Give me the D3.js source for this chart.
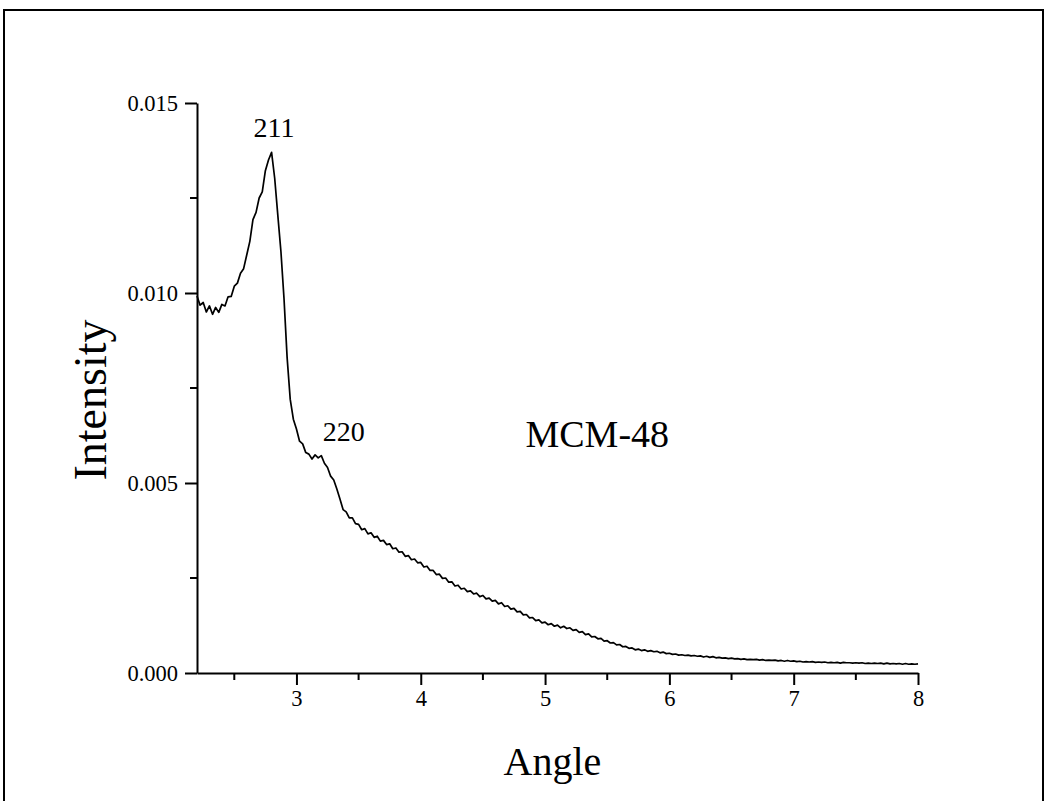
<!DOCTYPE html>
<html>
<head>
<meta charset="utf-8">
<script src="https://cdn.jsdelivr.net/npm/d3@7"></script>
<style>
  html, body { margin: 0; padding: 0; background: #fff; }
  svg { display: block; }
  text { font-family: "Liberation Serif", "Times New Roman", serif; fill: #000; }
</style>
</head>
<body>
<svg id="chart" width="1050" height="801"></svg>
<script>
// Small-angle XRD scan of MCM-48: [angle (2θ, deg), intensity]
const scan = [
  [2.200,0.00992],[2.225,0.00968],[2.250,0.00975],[2.275,0.00950],[2.300,0.00966],[2.325,0.00944],[2.350,0.00962],[2.375,0.00949],
  [2.400,0.00970],[2.425,0.00966],[2.450,0.00990],[2.475,0.00991],[2.500,0.01018],[2.525,0.01026],[2.550,0.01052],[2.575,0.01064],
  [2.600,0.01100],[2.625,0.01136],[2.650,0.01193],[2.675,0.01212],[2.700,0.01250],[2.725,0.01266],[2.750,0.01322],[2.775,0.01350],
  [2.800,0.01370],[2.825,0.01302],[2.850,0.01205],[2.875,0.01110],[2.900,0.00985],[2.925,0.00830],[2.950,0.00720],[2.975,0.00668],
  [3.000,0.00642],[3.025,0.00610],[3.050,0.00603],[3.075,0.00580],[3.100,0.00576],[3.125,0.00563],[3.150,0.00574],[3.175,0.00566],
  [3.200,0.00572],[3.225,0.00552],[3.250,0.00541],[3.275,0.00518],[3.300,0.00508],[3.325,0.00484],[3.350,0.00458],[3.375,0.00430],
  [3.400,0.00424],[3.425,0.00408],[3.450,0.00408],[3.475,0.00393],[3.500,0.00391],[3.525,0.00377],[3.550,0.00380],[3.575,0.00366],
  [3.600,0.00369],[3.625,0.00357],[3.650,0.00360],[3.675,0.00347],[3.700,0.00349],[3.725,0.00338],[3.750,0.00340],[3.775,0.00327],
  [3.800,0.00329],[3.825,0.00318],[3.850,0.00319],[3.875,0.00307],[3.900,0.00309],[3.925,0.00298],[3.950,0.00300],[3.975,0.00290],
  [4.000,0.00291],[4.025,0.00279],[4.050,0.00281],[4.075,0.00270],[4.100,0.00270],[4.125,0.00259],[4.150,0.00260],[4.175,0.00249],
  [4.200,0.00250],[4.225,0.00239],[4.250,0.00240],[4.275,0.00229],[4.300,0.00231],[4.325,0.00221],[4.350,0.00223],[4.375,0.00214],
  [4.400,0.00216],[4.425,0.00208],[4.450,0.00210],[4.475,0.00201],[4.500,0.00204],[4.525,0.00195],[4.550,0.00197],[4.575,0.00189],
  [4.600,0.00191],[4.625,0.00182],[4.650,0.00185],[4.675,0.00175],[4.700,0.00177],[4.725,0.00168],[4.750,0.00170],[4.775,0.00161],
  [4.800,0.00162],[4.825,0.00153],[4.850,0.00154],[4.875,0.00145],[4.900,0.00146],[4.925,0.00138],[4.950,0.00140],[4.975,0.00132],
  [5.000,0.00134],[5.025,0.00127],[5.050,0.00130],[5.075,0.00123],[5.100,0.00126],[5.125,0.00119],[5.150,0.00123],[5.175,0.00117],
  [5.200,0.00119],[5.225,0.00112],[5.250,0.00114],[5.275,0.00107],[5.300,0.00109],[5.325,0.00101],[5.350,0.00103],[5.375,0.00095],
  [5.400,0.00096],[5.425,0.00090],[5.450,0.00091],[5.475,0.00084],[5.500,0.00085],[5.525,0.00079],[5.550,0.00080],[5.575,0.00074],
  [5.600,0.00075],[5.625,0.00069],[5.650,0.00070],[5.675,0.00065],[5.700,0.00066],[5.725,0.00061],[5.750,0.00063],[5.775,0.00059],
  [5.800,0.00061],[5.825,0.00057],[5.850,0.00059],[5.875,0.00056],[5.900,0.00057],[5.925,0.00053],[5.950,0.00055],[5.975,0.00051],
  [6.000,0.00052],[6.025,0.00049],[6.050,0.00050],[6.075,0.00047],[6.100,0.00048],[6.125,0.00046],[6.150,0.00047],[6.175,0.00045],
  [6.200,0.00046],[6.225,0.00044],[6.250,0.00045],[6.275,0.00042],[6.300,0.00044],[6.325,0.00041],[6.350,0.00043],[6.375,0.00040],
  [6.400,0.00041],[6.425,0.00039],[6.450,0.00040],[6.475,0.00038],[6.500,0.00039],[6.525,0.00037],[6.550,0.00038],[6.575,0.00036],
  [6.600,0.00037],[6.625,0.00035],[6.650,0.00036],[6.675,0.00035],[6.700,0.00036],[6.725,0.00034],[6.750,0.00035],[6.775,0.00033],
  [6.800,0.00034],[6.825,0.00033],[6.850,0.00034],[6.875,0.00032],[6.900,0.00033],[6.925,0.00031],[6.950,0.00033],[6.975,0.00031],
  [7.000,0.00032],[7.025,0.00030],[7.050,0.00031],[7.075,0.00029],[7.100,0.00030],[7.125,0.00029],[7.150,0.00030],[7.175,0.00028],
  [7.200,0.00029],[7.225,0.00028],[7.250,0.00029],[7.275,0.00027],[7.300,0.00028],[7.325,0.00027],[7.350,0.00028],[7.375,0.00026],
  [7.400,0.00028],[7.425,0.00027],[7.450,0.00027],[7.475,0.00026],[7.500,0.00027],[7.525,0.00026],[7.550,0.00027],[7.575,0.00025],
  [7.600,0.00026],[7.625,0.00025],[7.650,0.00026],[7.675,0.00025],[7.700,0.00026],[7.725,0.00024],[7.750,0.00026],[7.775,0.00024],
  [7.800,0.00025],[7.825,0.00024],[7.850,0.00025],[7.875,0.00023],[7.900,0.00025],[7.925,0.00023],[7.950,0.00024],[7.975,0.00023],
  [8.000,0.00024]
];

// Axis ticks
const xMajorTicks = [3, 4, 5, 6, 7, 8];
const xMinorTicks = [2.5, 3.5, 4.5, 5.5, 6.5, 7.5];
const yMajorTicks = [0.000, 0.005, 0.010, 0.015];
const yMinorTicks = [0.0025, 0.0075, 0.0125];

// Reflection labels (Miller indices) and sample name
const peakLabels = [
  { text: "211", angle: 2.82, value: 0.0141 },
  { text: "220", angle: 3.38, value: 0.0061 }
];
const sampleName = { text: "MCM-48", angle: 5.42, value: 0.00595 };

const svg = d3.select("#chart");

// outer frame
svg.append("rect")
  .attr("x", 4).attr("y", 10)
  .attr("width", 1039).attr("height", 820)
  .attr("fill", "none").attr("stroke", "#000").attr("stroke-width", 2);

const plot = { left: 197, right: 918, top: 103, bottom: 673 };

const x = d3.scaleLinear().domain([2.2, 8]).range([plot.left, plot.right]);
const y = d3.scaleLinear().domain([0, 0.015]).range([plot.bottom, plot.top]);

// x axis
const gx = svg.append("g").attr("transform", `translate(0,${plot.bottom})`);
gx.call(d3.axisBottom(x).tickValues(xMajorTicks).tickFormat(d3.format("d"))
  .tickSize(12).tickSizeOuter(0).tickPadding(5));
gx.append("g").selectAll("line").data(xMinorTicks).join("line")
  .attr("x1", d => x(d)).attr("x2", d => x(d)).attr("y1", 0).attr("y2", 7);

// y axis
const gy = svg.append("g").attr("transform", `translate(${plot.left},0)`);
gy.call(d3.axisLeft(y).tickValues(yMajorTicks).tickFormat(d3.format(".3f"))
  .tickSize(12).tickSizeOuter(0).tickPadding(7));
gy.append("g").selectAll("line").data(yMinorTicks).join("line")
  .attr("x1", 0).attr("x2", -7).attr("y1", d => y(d)).attr("y2", d => y(d));

[gx, gy].forEach(g => {
  g.selectAll(".domain").attr("stroke", "#000").attr("stroke-width", 2);
  g.selectAll("line").attr("stroke", "#000").attr("stroke-width", 2);
  g.selectAll("text").attr("font-family", "Liberation Serif, serif")
    .attr("font-size", 22.5).attr("fill", "#000");
});

// scan trace
const line = d3.line().x(d => x(d[0])).y(d => y(d[1]));
svg.append("path")
  .datum(scan)
  .attr("d", line)
  .attr("fill", "none")
  .attr("stroke", "#000")
  .attr("stroke-width", 1.7)
  .attr("stroke-linejoin", "round");

// annotations
svg.selectAll("text.peak").data(peakLabels).join("text")
  .attr("class", "peak")
  .attr("x", d => x(d.angle)).attr("y", d => y(d.value))
  .attr("text-anchor", "middle")
  .attr("font-size", 28)
  .text(d => d.text);

svg.append("text")
  .attr("x", x(sampleName.angle)).attr("y", y(sampleName.value))
  .attr("text-anchor", "middle")
  .attr("font-size", 38)
  .text(sampleName.text);

// axis titles
svg.append("text")
  .attr("x", (plot.left + plot.right) / 2 - 5).attr("y", 775)
  .attr("text-anchor", "middle")
  .attr("font-size", 40)
  .text("Angle");

svg.append("text")
  .attr("transform", `translate(106,${(plot.top + plot.bottom) / 2 + 12}) rotate(-90)`)
  .attr("text-anchor", "middle")
  .attr("font-size", 46)
  .text("Intensity");
</script>
</body>
</html>
